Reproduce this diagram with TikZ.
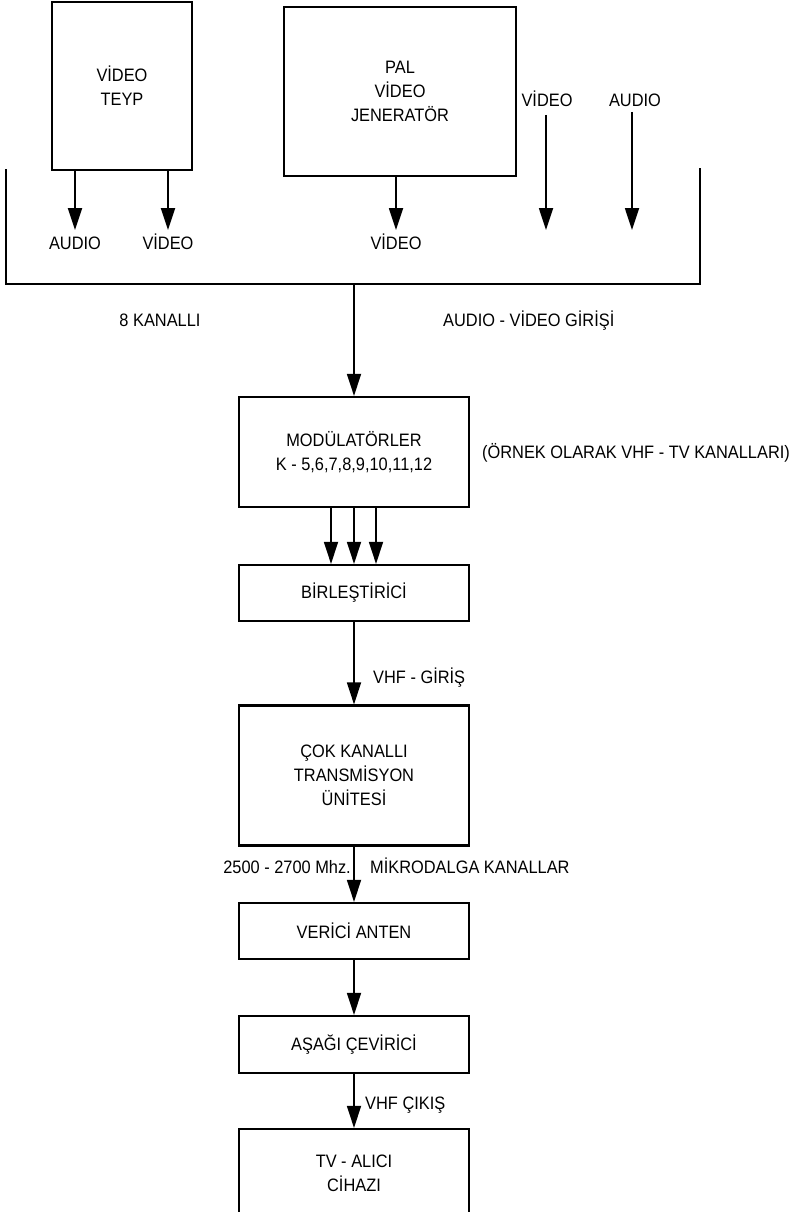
\documentclass[tikz,border=0pt]{standalone}
\usepackage{fontspec}
\setmainfont{Liberation Sans}[FakeStretch=0.91]
\usetikzlibrary{arrows.meta}
\begin{document}
\begin{tikzpicture}[x=1pt,y=-1pt,
  box/.style={draw, line width=2.2pt, minimum width=230pt, inner sep=0pt, align=center, font=\fontsize{18}{24}\selectfont},
  lbl/.style={font=\fontsize{18}{24}\selectfont, inner sep=0pt, anchor=base},
  arr/.style={line width=1.8pt, -{Triangle[length=22pt,width=14pt]}},
  wire/.style={line width=1.8pt}]
\useasboundingbox (0,0) rectangle (795,1212);
\clip (0,0) rectangle (795,1212);
% top sources
\node[box, minimum width=140pt, minimum height=168pt] (teyp) at (122,86) {VİDEO\\TEYP};
\node[box, minimum width=232pt, minimum height=169pt] (pal) at (400,91.5) {PAL\\VİDEO\\JENERATÖR};
\coordinate (ta) at (75,230);
\coordinate (tv2) at (168,230);
\coordinate (pv) at (396,230);
\node[lbl] (la) at (75,249.5) {AUDIO};
\node[lbl] (lv) at (168,249.5) {VİDEO};
\node[lbl] (lp) at (396,249.5) {VİDEO};
\draw[arr] (teyp.south -| ta) -- (ta);
\draw[arr] (teyp.south -| tv2) -- (tv2);
\draw[arr] (pal.south -| pv) -- (pv);
\node[lbl] (xv) at (547,106.5) {VİDEO};
\node[lbl] (xa) at (635,106.5) {AUDIO};
\coordinate (xvs) at (546,115);
\coordinate (xve) at (546,230);
\coordinate (xas) at (632,112);
\coordinate (xae) at (632,230);
\draw[arr] (xvs) -- (xve);
\draw[arr] (xas) -- (xae);
% bus
\coordinate (b1) at (6,169);
\coordinate (b2) at (6,284);
\coordinate (b3) at (700,284);
\coordinate (b4) at (700,168);
\draw[wire] (b1) -- (b2) -- (b3) -- (b4);
\node[lbl] (k8) at (160,326.5) {8 KANALLI};
\node[lbl, anchor=base west] (avg) at (443,326.5) {AUDIO - VİDEO GİRİŞİ};
% chain
\node[box, minimum height=110pt] (mod) at (354,452) {MODÜLATÖRLER\\K - 5,6,7,8,9,10,11,12};
\node[lbl, anchor=base west] (ornek) at (482,458.5) {(ÖRNEK OLARAK VHF - TV KANALLARI)};
\draw[arr] (mod.north |- b2) -- (mod.north);
\node[box, minimum height=56pt] (bir) at (354,593) {BİRLEŞTİRİCİ};
\draw[arr] ([xshift=-23pt]mod.south) -- ([xshift=-23pt]bir.north);
\draw[arr] (mod.south) -- (bir.north);
\draw[arr] ([xshift=22pt]mod.south) -- ([xshift=22pt]bir.north);
\node[box, minimum height=140pt] (cok) at (354,775.5) {ÇOK KANALLI\\TRANSMİSYON\\ÜNİTESİ};
\draw[arr] (bir.south) -- (cok.north);
\node[lbl, anchor=base west] (vg) at (373,683.5) {VHF - GİRİŞ};
\node[box, minimum height=56pt] (ver) at (354,931) {VERİCİ ANTEN};
\draw[arr] (cok.south) -- (ver.north);
\node[lbl, anchor=base east] (mhz) at (351,873.5) {2500 - 2700 Mhz.};
\node[lbl, anchor=base west] (mk) at (370,873.5) {MİKRODALGA KANALLAR};
\node[box, minimum height=57pt] (asa) at (354,1044.5) {AŞAĞI ÇEVİRİCİ};
\draw[arr] (ver.south) -- (asa.north);
\node[box, minimum height=112pt] (tv) at (354,1185) {};
\node[align=center, inner sep=0pt, font=\fontsize{18}{24}\selectfont] (tvt) at (354,1173.5) {TV - ALICI\\CİHAZI};
\draw[arr] (asa.south) -- (tv.north);
\node[lbl, anchor=base west] (vc) at (365,1109.5) {VHF ÇIKIŞ};
\end{tikzpicture}
\end{document}
